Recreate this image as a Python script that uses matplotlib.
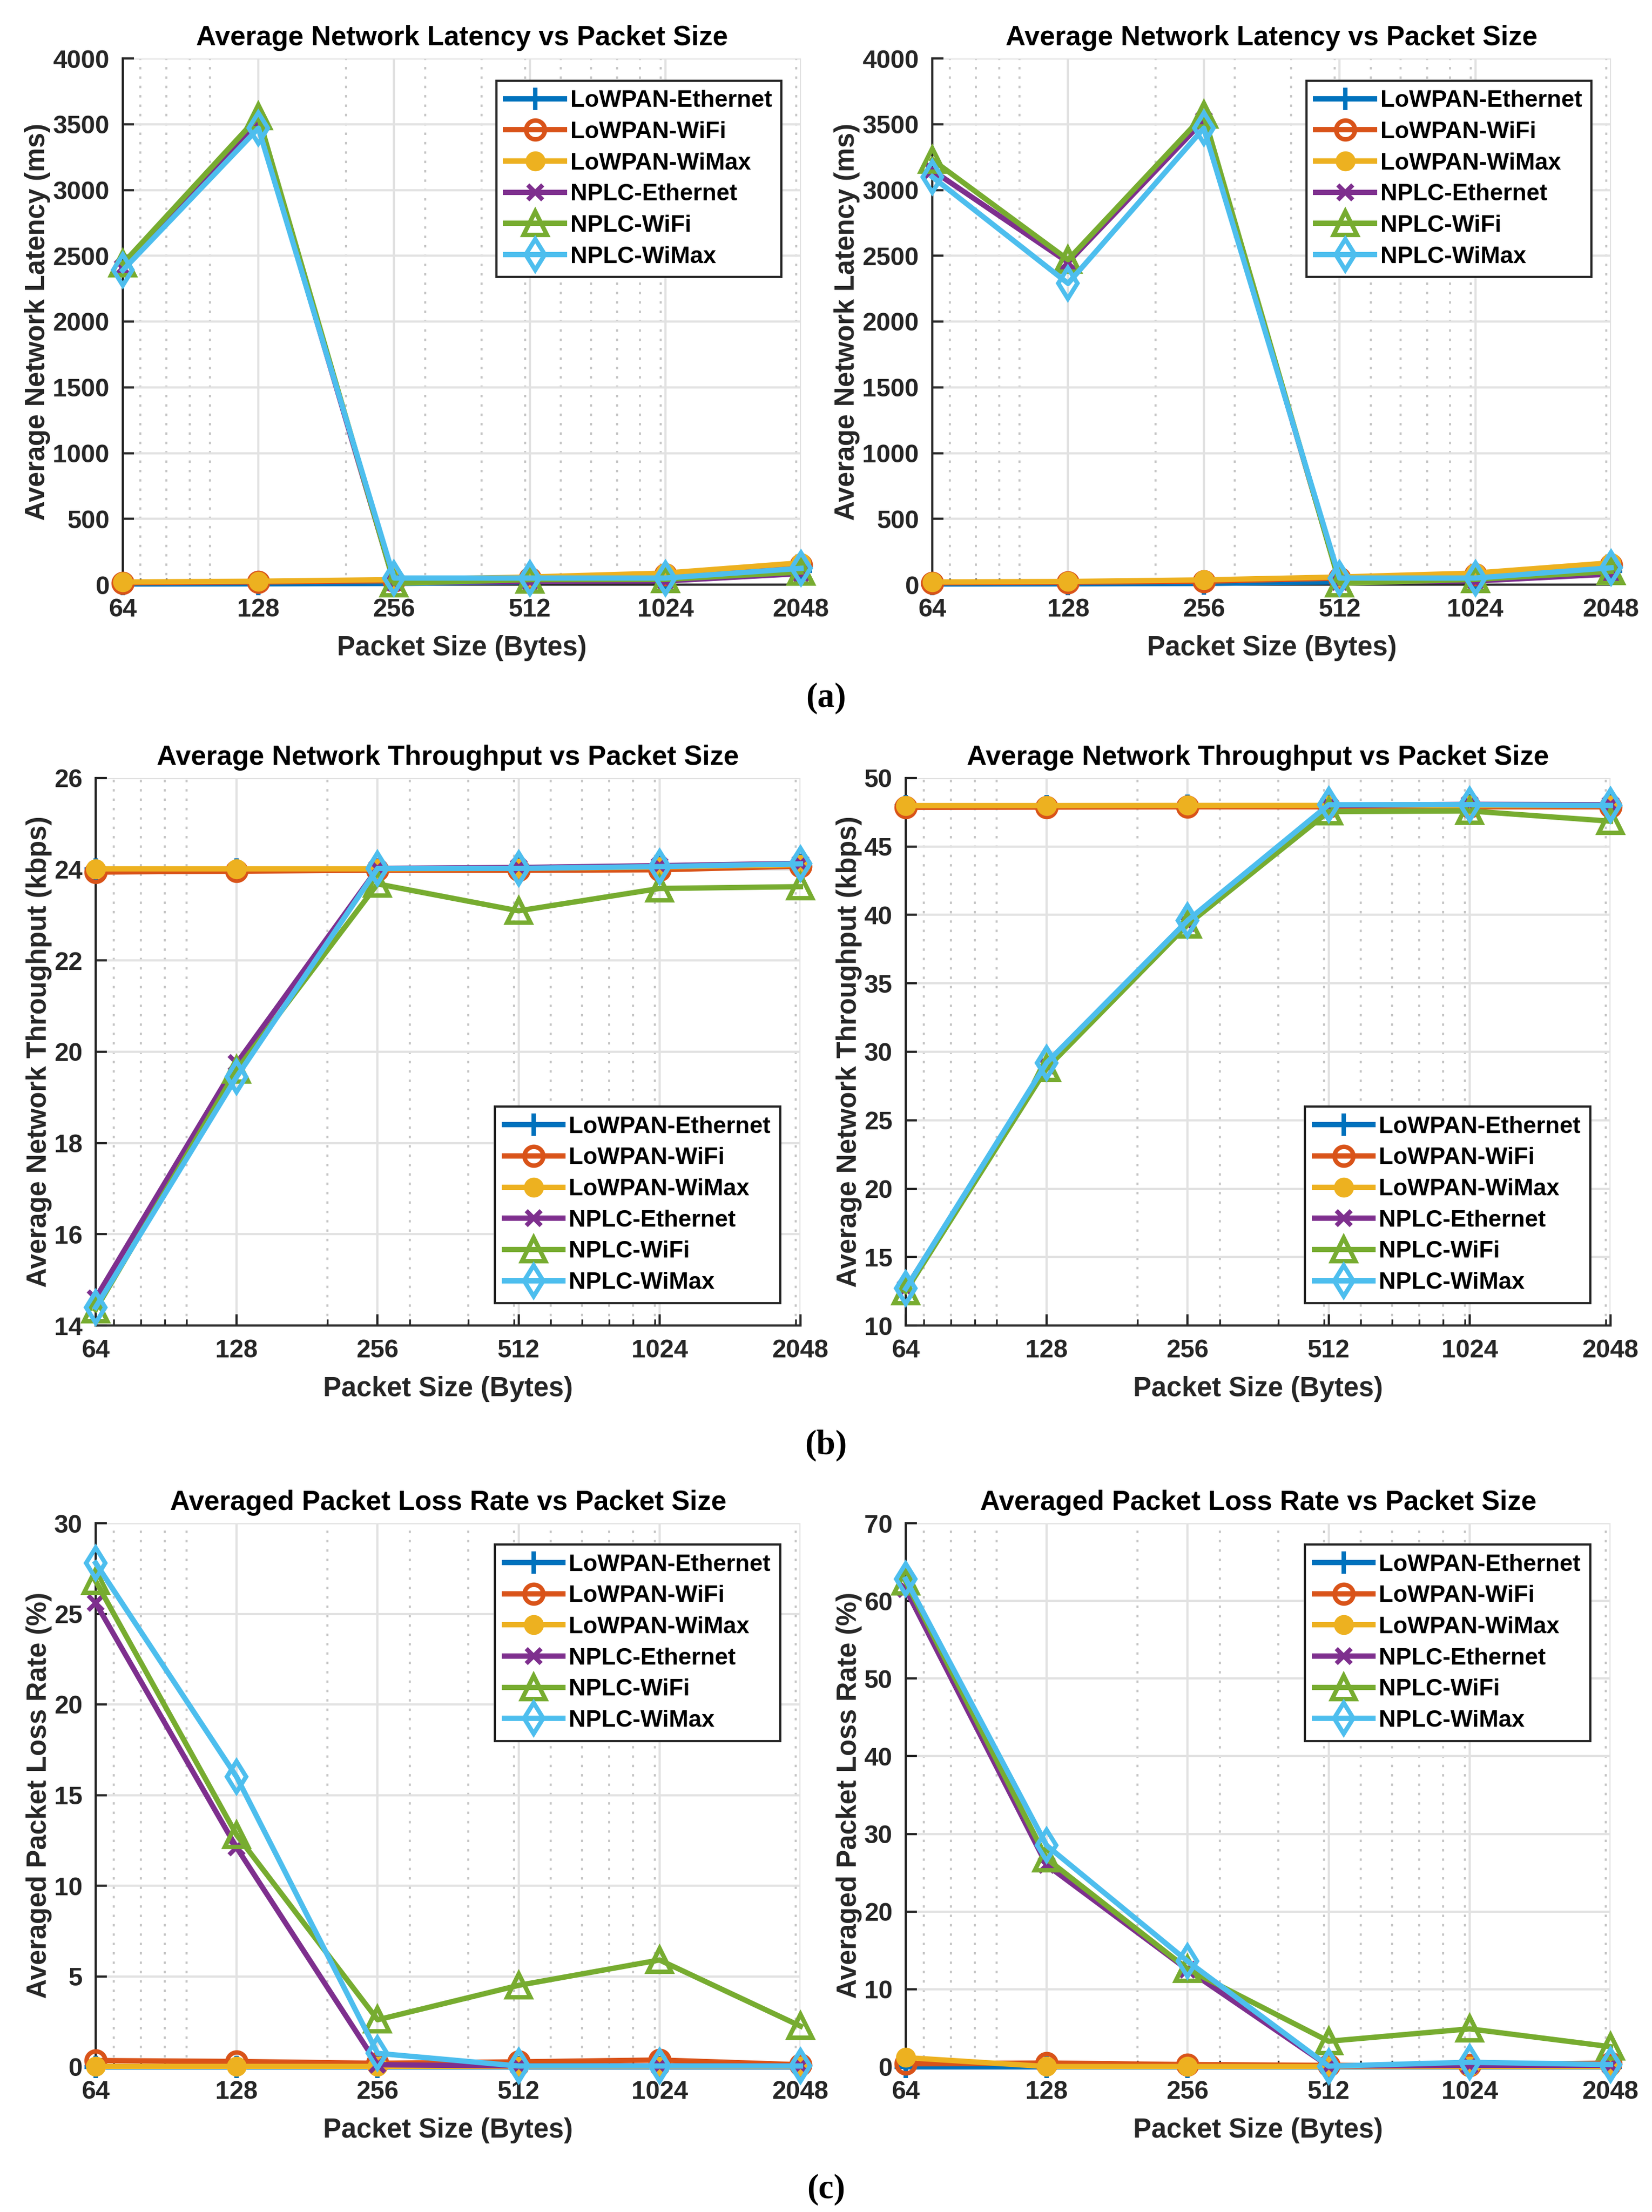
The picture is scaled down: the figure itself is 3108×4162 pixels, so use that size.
import matplotlib
matplotlib.use('Agg')
import matplotlib.pyplot as plt
from matplotlib.ticker import FixedLocator, FixedFormatter, NullFormatter

# ---------------- data ----------------
packet_sizes = [64, 128, 256, 512, 1024, 2048]
tick_labels = ['64', '128', '256', '512', '1024', '2048']
series_names = ['LoWPAN-Ethernet', 'LoWPAN-WiFi', 'LoWPAN-WiMax',
                'NPLC-Ethernet', 'NPLC-WiFi', 'NPLC-WiMax']

# (a) left: Average Network Latency (ms)
lat1_lowpan_eth = [5, 6, 9, 22, 40, 105]
lat1_lowpan_wifi = [14, 20, 30, 50, 76, 150]
lat1_lowpan_wimax = [20, 26, 38, 58, 88, 166]
lat1_nplc_eth = [2410, 3500, 15, 24, 28, 84]
lat1_nplc_wifi = [2440, 3560, 10, 38, 40, 96]
lat1_nplc_wimax = [2390, 3470, 50, 50, 50, 124]

# (a) right: Average Network Latency (ms)
lat2_lowpan_eth = [5, 6, 9, 22, 40, 105]
lat2_lowpan_wifi = [14, 18, 26, 50, 76, 150]
lat2_lowpan_wimax = [20, 24, 36, 58, 88, 166]
lat2_nplc_eth = [3150, 2450, 3530, 20, 28, 80]
lat2_nplc_wifi = [3230, 2470, 3570, 10, 40, 100]
lat2_nplc_wimax = [3100, 2290, 3470, 50, 50, 128]

# (b) left: Average Network Throughput (kbps)
thr1_lowpan_eth = [24.0, 24.0, 24.0, 24.02, 24.05, 24.1]
thr1_lowpan_wifi = [23.94, 23.96, 23.98, 23.98, 23.99, 24.07]
thr1_lowpan_wimax = [24.01, 24.01, 24.01, 24.02, 24.05, 24.1]
thr1_nplc_eth = [14.6, 19.75, 24.02, 24.04, 24.08, 24.13]
thr1_nplc_wifi = [14.35, 19.6, 23.68, 23.09, 23.58, 23.62]
thr1_nplc_wimax = [14.4, 19.45, 24.02, 24.02, 24.06, 24.12]

# (b) right: Average Network Throughput (kbps)
thr2_lowpan_eth = [47.95, 47.95, 47.98, 47.98, 48.0, 48.0]
thr2_lowpan_wifi = [47.86, 47.88, 47.9, 47.9, 47.9, 47.9]
thr2_lowpan_wimax = [47.99, 47.99, 48.0, 48.0, 48.0, 48.0]
thr2_nplc_eth = [12.7, 29.0, 39.4, 48.0, 48.08, 48.05]
thr2_nplc_wifi = [12.5, 28.8, 39.3, 47.55, 47.6, 46.85]
thr2_nplc_wimax = [12.7, 29.2, 39.6, 48.05, 48.06, 48.0]

# (c) left: Averaged Packet Loss Rate (%)
plr1_lowpan_eth = [0.0, 0.0, 0.0, 0.0, 0.0, 0.0]
plr1_lowpan_wifi = [0.35, 0.3, 0.2, 0.28, 0.38, 0.12]
plr1_lowpan_wimax = [0.02, 0.02, 0.02, 0.02, 0.02, 0.02]
plr1_nplc_eth = [25.6, 12.1, 0.12, 0.05, 0.05, 0.05]
plr1_nplc_wifi = [26.8, 12.8, 2.6, 4.5, 5.9, 2.25]
plr1_nplc_wimax = [27.8, 16.0, 0.75, 0.05, 0.05, 0.05]

# (c) right: Averaged Packet Loss Rate (%)
plr2_lowpan_eth = [0.0, 0.0, 0.0, 0.0, 0.0, 0.0]
plr2_lowpan_wifi = [0.4, 0.5, 0.3, 0.2, 0.2, 0.5]
plr2_lowpan_wimax = [1.2, 0.05, 0.05, 0.05, 0.05, 0.05]
plr2_nplc_eth = [61.5, 26.0, 12.5, 0.1, 0.2, 0.2]
plr2_nplc_wifi = [62.5, 26.8, 12.6, 3.3, 4.9, 2.6]
plr2_nplc_wimax = [62.8, 28.5, 13.6, 0.1, 0.6, 0.3]

lat_yticks = [0, 500, 1000, 1500, 2000, 2500, 3000, 3500, 4000]
thr1_yticks = [14, 16, 18, 20, 22, 24, 26]
thr2_yticks = [10, 15, 20, 25, 30, 35, 40, 45, 50]
plr1_yticks = [0, 5, 10, 15, 20, 25, 30]
plr2_yticks = [0, 10, 20, 30, 40, 50, 60, 70]

# ---------------- style ----------------
FONT = ['Liberation Sans', 'DejaVu Sans']
plt.rcParams['font.family'] = FONT
TXT = '#262626'
colors = ['#0072BD', '#D95319', '#EDB120', '#7E2F8E', '#77AC30', '#4DBEEE']
markers = ['+', 'o', 'o', 'x', '^', 'd']
mfc = ['#0072BD', 'none', '#EDB120', '#7E2F8E', 'none', 'none']
msizes = [10, 8.5, 7, 6.5, 10.5, 10]
minor_pos = [70, 80, 90, 100, 200, 300, 400, 500, 600, 700, 800, 900, 1000, 2000]

fig = plt.figure(figsize=(3108 / 300, 4162 / 300), dpi=300)
W, H = 3108.0, 4162.0


def make_ax(x0, x1, y0, y1):
    return fig.add_axes([x0 / W, 1 - y1 / H, (x1 - x0) / W, (y1 - y0) / H])


def draw(ax, series, title, ylabel, yticks, legend_loc, anchor):
    for i, ys in enumerate(series):
        ax.plot(packet_sizes, ys, color=colors[i], lw=2.4, marker=markers[i],
                markersize=msizes[i], markerfacecolor=mfc[i],
                markeredgecolor=colors[i], markeredgewidth=2.0,
                label=series_names[i], clip_on=False, zorder=3 + i)
    ax.set_xscale('log')
    ax.set_xlim(packet_sizes[0], packet_sizes[-1])
    ax.set_ylim(yticks[0], yticks[-1])
    ax.xaxis.set_major_locator(FixedLocator(packet_sizes))
    ax.xaxis.set_major_formatter(FixedFormatter(tick_labels))
    ax.xaxis.set_minor_locator(FixedLocator(minor_pos))
    ax.xaxis.set_minor_formatter(NullFormatter())
    ax.set_yticks(yticks)
    ax.set_yticklabels([str(t) for t in yticks])
    ax.set_axisbelow(True)
    ax.grid(True, which='major', color='#e2e2e2', lw=1.0)
    ax.grid(True, which='minor', axis='x', color='#c4c4c4', lw=0.9,
            linestyle=(0, (1.2, 3.5)))
    for s in ['top', 'right']:
        ax.spines[s].set_visible(False)
    for s in ['left', 'bottom']:
        ax.spines[s].set_color(TXT)
        ax.spines[s].set_linewidth(1.0)
    ax.tick_params(axis='both', which='major', direction='in', length=5,
                   width=1.0, color=TXT, labelcolor=TXT, labelsize=11.5, pad=6)
    ax.tick_params(axis='x', which='minor', direction='in', length=3,
                   width=0.8, color=TXT)
    for lab in ax.get_xticklabels() + ax.get_yticklabels():
        lab.set_fontweight('bold')
    ax.set_title(title, fontsize=12.4, fontweight='bold', color='black', pad=6)
    ax.set_xlabel('Packet Size (Bytes)', fontsize=12.3, fontweight='bold',
                  color=TXT, labelpad=6)
    ax.set_ylabel(ylabel, fontsize=12.3, fontweight='bold', color=TXT,
                  labelpad=1)
    leg = ax.legend(loc=legend_loc, bbox_to_anchor=anchor,
                    prop={'weight': 'bold', 'size': 10.6},
                    frameon=True, fancybox=False, framealpha=1,
                    edgecolor=TXT, handlelength=2.5, handletextpad=0.25,
                    labelspacing=0.4, borderpad=0.4, borderaxespad=0)
    leg.get_frame().set_linewidth(1.0)
    for t in leg.get_texts():
        t.set_color('black')


# (a)
axA1 = make_ax(231, 1507, 110, 1100)
draw(axA1, [lat1_lowpan_eth, lat1_lowpan_wifi, lat1_lowpan_wimax,
            lat1_nplc_eth, lat1_nplc_wifi, lat1_nplc_wimax],
     'Average Network Latency vs Packet Size', 'Average Network Latency (ms)',
     lat_yticks, 'upper right', (0.971, 0.958))
axA2 = make_ax(1754, 3031, 110, 1100)
draw(axA2, [lat2_lowpan_eth, lat2_lowpan_wifi, lat2_lowpan_wimax,
            lat2_nplc_eth, lat2_nplc_wifi, lat2_nplc_wimax],
     'Average Network Latency vs Packet Size', 'Average Network Latency (ms)',
     lat_yticks, 'upper right', (0.971, 0.958))

# (b)
axB1 = make_ax(180, 1506, 1464, 2494)
draw(axB1, [thr1_lowpan_eth, thr1_lowpan_wifi, thr1_lowpan_wimax,
            thr1_nplc_eth, thr1_nplc_wifi, thr1_nplc_wimax],
     'Average Network Throughput vs Packet Size',
     'Average Network Throughput (kbps)',
     thr1_yticks, 'lower right', (0.971, 0.041))
axB2 = make_ax(1704, 3030, 1464, 2494)
draw(axB2, [thr2_lowpan_eth, thr2_lowpan_wifi, thr2_lowpan_wimax,
            thr2_nplc_eth, thr2_nplc_wifi, thr2_nplc_wimax],
     'Average Network Throughput vs Packet Size',
     'Average Network Throughput (kbps)',
     thr2_yticks, 'lower right', (0.971, 0.041))

# (c)
axC1 = make_ax(180, 1506, 2866, 3889)
draw(axC1, [plr1_lowpan_eth, plr1_lowpan_wifi, plr1_lowpan_wimax,
            plr1_nplc_eth, plr1_nplc_wifi, plr1_nplc_wimax],
     'Averaged Packet Loss Rate vs Packet Size',
     'Averaged Packet Loss Rate (%)',
     plr1_yticks, 'upper right', (0.971, 0.961))
axC2 = make_ax(1704, 3030, 2866, 3889)
draw(axC2, [plr2_lowpan_eth, plr2_lowpan_wifi, plr2_lowpan_wimax,
            plr2_nplc_eth, plr2_nplc_wifi, plr2_nplc_wimax],
     'Averaged Packet Loss Rate vs Packet Size',
     'Averaged Packet Loss Rate (%)',
     plr2_yticks, 'upper right', (0.971, 0.961))

# captions
for lab, yc in [('(a)', 1314), ('(b)', 2720), ('(c)', 4120)]:
    fig.text(1554 / W, 1 - yc / H, lab, ha='center', va='center',
             fontsize=15.5, fontweight='bold',
             family=['Liberation Serif', 'DejaVu Serif'], color='black')

fig.savefig('out.png', dpi=300, facecolor='white')
